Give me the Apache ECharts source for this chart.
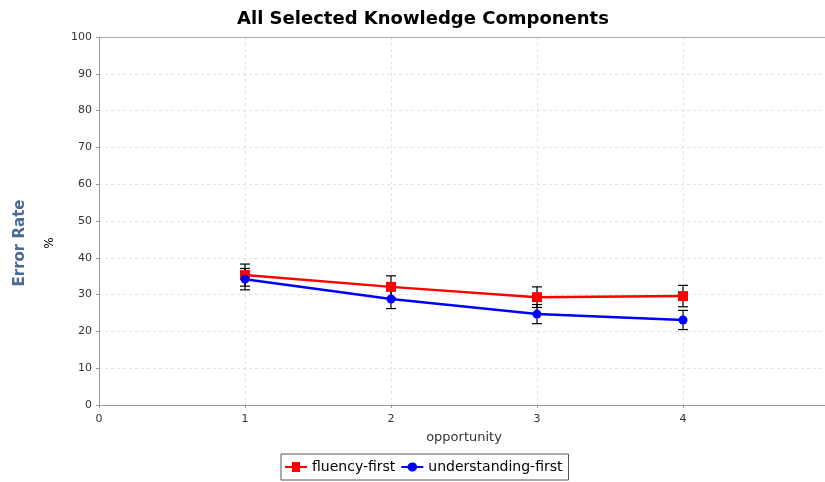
<!DOCTYPE html>
<html>
<head>
<meta charset="utf-8">
<script src="https://cdn.jsdelivr.net/npm/echarts@6/dist/echarts.min.js"></script>
<style>html,body{margin:0;padding:0;background:#fff;}#c{width:825px;height:482px;}</style>
</head>
<body>
<div id="c"></div>
<script>
const opportunities = [1, 2, 3, 4];
const fluencyFirst = [35.3, 32.1, 29.3, 29.6];
const fluencyErr = [3.0, 3.0, 2.8, 2.9];
const understandingFirst = [34.2, 28.8, 24.7, 23.1];
const understandingErr = [2.9, 2.6, 2.6, 2.6];
const yTicks = [0, 10, 20, 30, 40, 50, 60, 70, 80, 90, 100];
const xTicks = [0, 1, 2, 3, 4];

const FONT = 'DejaVu Sans';
const chart = echarts.init(document.getElementById('c'), null, {renderer: 'canvas'});

function errData(vals, errs) {
  return opportunities.map((x, i) => [x, vals[i] - errs[i], vals[i] + errs[i]]);
}
function errRender(params, api) {
  const x = api.value(0);
  const lo = api.coord([x, api.value(1)]);
  const hi = api.coord([x, api.value(2)]);
  const w = 5;
  const st = {stroke: '#000', lineWidth: 1.2};
  return {
    type: 'group',
    children: [
      {type: 'line', shape: {x1: lo[0], y1: lo[1], x2: hi[0], y2: hi[1]}, style: st},
      {type: 'line', shape: {x1: lo[0] - w, y1: lo[1], x2: lo[0] + w, y2: lo[1]}, style: st},
      {type: 'line', shape: {x1: hi[0] - w, y1: hi[1], x2: hi[0] + w, y2: hi[1]}, style: st}
    ]
  };
}

chart.setOption({
  animation: false,
  backgroundColor: '#fff',
  title: {
    text: 'All Selected Knowledge Components',
    left: 418, top: 5, textAlign: 'center',
    textStyle: {fontFamily: FONT, fontSize: 18, fontWeight: 'bold', color: '#000'}
  },
  grid: {left: 99, top: 37, width: 730, height: 368, outerBoundsMode: 'none'},
  legend: {
    bottom: 2, left: 281,
    itemGap: 6,
    itemWidth: 22, itemHeight: 10,
    borderColor: '#555', borderWidth: 1, borderRadius: 0,
    padding: [6, 6, 6, 4],
    textStyle: {fontFamily: FONT, fontSize: 14, color: '#000'},
    data: [
      {name: 'fluency-first', icon: 'path://M0,4 L7,4 L7,0 L15,0 L15,4 L22,4 L22,6 L15,6 L15,10 L7,10 L7,6 L0,6 Z'},
      {name: 'understanding-first', icon: 'path://M0,4 L6.2,4 A5,5 0 0 1 15.8,4 L22,4 L22,6 L15.8,6 A5,5 0 0 1 6.2,6 L0,6 Z'}
    ]
  },
  xAxis: {
    type: 'value', min: 0, max: 5, interval: 1,
    name: 'opportunity', nameLocation: 'middle', nameGap: 26,
    nameTextStyle: {fontFamily: FONT, fontSize: 13, color: '#333'},
    axisLine: {show: true, lineStyle: {color: '#999', width: 1}},
    axisTick: {show: true, length: 3, lineStyle: {color: '#999'}},
    axisLabel: {fontFamily: FONT, fontSize: 11, color: '#333', margin: 9,
      formatter: v => xTicks.indexOf(v) >= 0 ? String(v) : ''},
    splitLine: {show: true, lineStyle: {color: '#e2e2e2', type: [3, 3], width: 1}}
  },
  yAxis: {
    type: 'value', min: 0, max: 100, interval: 10,
    axisLine: {show: true, lineStyle: {color: '#999', width: 1}},
    axisTick: {show: true, length: 3, lineStyle: {color: '#999'}},
    axisLabel: {fontFamily: FONT, fontSize: 11, color: '#333', margin: 7,
      formatter: v => yTicks.indexOf(v) >= 0 ? String(v) : ''},
    splitLine: {show: true, lineStyle: {color: '#e2e2e2', type: [3, 3], width: 1}}
  },
  graphic: [
    {type: 'line', shape: {x1: 99, y1: 37.5, x2: 825, y2: 37.5}, style: {stroke: '#aaa', lineWidth: 1}, z: 10},
    {type: 'text', x: 20, y: 243, rotation: Math.PI / 2,
      style: {text: 'Error Rate', fontFamily: FONT, fontSize: 15, fontWeight: 'bold', fill: '#4a6a96', align: 'center', verticalAlign: 'middle'}},
    {type: 'text', x: 50, y: 243, rotation: Math.PI / 2,
      style: {text: '%', fontFamily: FONT, fontSize: 12, fill: '#000', align: 'center', verticalAlign: 'middle'}}
  ],
  series: [
    {
      name: 'fluency-first', type: 'line',
      data: opportunities.map((x, i) => [x, fluencyFirst[i]]),
      symbol: 'rect', symbolSize: 10,
      itemStyle: {color: '#ff0000'},
      lineStyle: {color: '#ff0000', width: 2.5},
      z: 3
    },
    {
      name: 'understanding-first', type: 'line',
      data: opportunities.map((x, i) => [x, understandingFirst[i]]),
      symbol: 'circle', symbolSize: 9,
      itemStyle: {color: '#0000ff'},
      lineStyle: {color: '#0000ff', width: 2.5},
      z: 3
    },
    {
      type: 'custom', name: 'fluency-err', renderItem: errRender,
      data: errData(fluencyFirst, fluencyErr), z: 2, silent: true,
      encode: {x: 0, y: [1, 2]}
    },
    {
      type: 'custom', name: 'understanding-err', renderItem: errRender,
      data: errData(understandingFirst, understandingErr), z: 2, silent: true,
      encode: {x: 0, y: [1, 2]}
    }
  ]
});
</script>
</body>
</html>
